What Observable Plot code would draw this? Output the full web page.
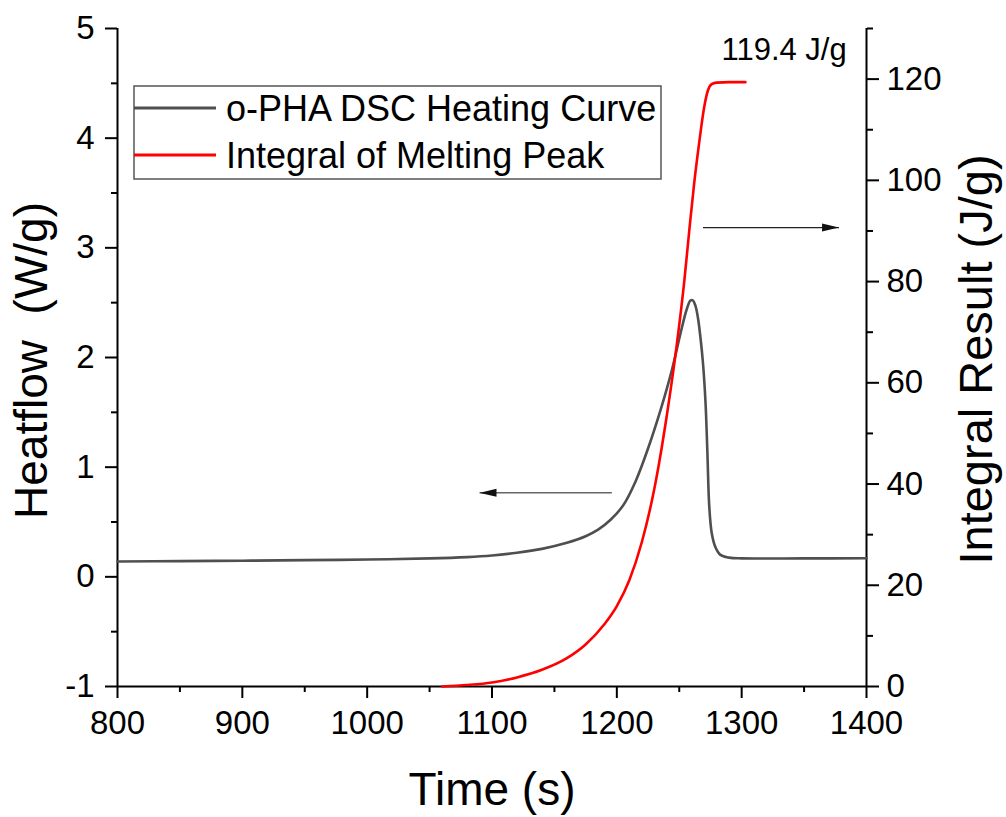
<!DOCTYPE html>
<html>
<head>
<meta charset="utf-8">
<script src="https://cdn.jsdelivr.net/npm/d3@7"></script>
<script src="https://cdn.jsdelivr.net/npm/@observablehq/plot@0.6"></script>
<style>
  html, body { margin: 0; padding: 0; background: #fff; }
  #chart { width: 1006px; height: 817px; }
</style>
</head>
<body>
<div id="chart"></div>
<script>
// ---- data ----
const heatTime = [800, 850, 900, 950, 1000, 1050, 1080, 1100, 1120, 1140, 1160, 1175, 1185, 1195, 1205, 1215, 1225, 1235, 1244, 1251, 1256, 1259, 1261, 1263, 1265, 1267, 1269, 1271, 1272.5, 1274, 1276, 1279, 1283, 1290, 1300, 1350, 1400];
const heatFlow = [0.14, 0.143, 0.147, 0.152, 0.158, 0.168, 0.18, 0.195, 0.22, 0.255, 0.31, 0.37, 0.43, 0.52, 0.65, 0.87, 1.17, 1.52, 1.88, 2.22, 2.44, 2.52, 2.52, 2.47, 2.36, 2.18, 1.95, 1.60, 1.15, 0.65, 0.40, 0.27, 0.20, 0.175, 0.168, 0.168, 0.17];

const integTime = [1060, 1080, 1100, 1120, 1140, 1160, 1175, 1190, 1200, 1210, 1220, 1230, 1240, 1248, 1254, 1258, 1262, 1266, 1270, 1273, 1276, 1280, 1290, 1303];
const integValue = [0, 0.3, 0.8, 1.8, 3.3, 5.6, 8.3, 12.3, 15.9, 21, 28.5, 39, 53.5, 67.5, 80, 90, 99.5, 107.5, 114.5, 117.8, 119.0, 119.3, 119.4, 119.4];

const xTicks = [800, 900, 1000, 1100, 1200, 1300, 1400];
const xMinor = [850, 950, 1050, 1150, 1250, 1350];
const leftTicks = [-1, 0, 1, 2, 3, 4, 5];
const leftMinor = [-0.5, 0.5, 1.5, 2.5, 3.5, 4.5];
const rightTicks = [0, 20, 40, 60, 80, 100, 120];
const rightMinor = [10, 30, 50, 70, 90, 110, 130];

const seriesNames = ["o-PHA DSC Heating Curve", "Integral of Melting Peak"];
const annotation = [{t: 1334, v: 125.7, label: "119.4 J/g"}];
// arrows: right-pointing (integral axis), left-pointing (heatflow axis)
const arrowRight = [{t1: 1269, t2: 1378, hf: 3.185}];
const arrowLeft = [{t1: 1196, t2: 1090, hf: 0.766}];

// right axis (0..130 J/g) mapped onto the left scale (-1..5 W/g)
const toLeft = d3.scaleLinear([0, 130], [-1, 5]);

const heatData = heatTime.map((t, i) => ({t, v: heatFlow[i]}));
const integData = integTime.map((t, i) => ({t, v: integValue[i]}));

const FONT = "Liberation Sans, Arial, sans-serif";
const fmt = d => String(d);

const chart = Plot.plot({
  width: 1006,
  height: 817,
  marginLeft: 117,
  marginRight: 140,
  marginTop: 28,
  marginBottom: 131,
  x: {domain: [800, 1400]},
  y: {domain: [-1, 5]},
  style: {fontFamily: FONT, fontSize: "32px", color: "black", background: "white"},
  marks: [
    // axes lines
    Plot.ruleY([-1], {stroke: "black", strokeWidth: 2}),
    Plot.ruleX([800], {stroke: "black", strokeWidth: 2}),
    Plot.ruleX([1400], {stroke: "black", strokeWidth: 2}),
    // bottom axis
    Plot.axisX(xTicks, {anchor: "bottom", tickSize: 12, tickPadding: 12, strokeWidth: 2, fontSize: 33, label: null, tickFormat: fmt}),
    Plot.axisX(xMinor, {anchor: "bottom", tickSize: 6, strokeWidth: 2, tickFormat: () => "", label: null}),
    // left axis
    Plot.axisY(leftTicks, {anchor: "left", tickSize: 12, tickPadding: 11, strokeWidth: 2, fontSize: 33, label: null, tickFormat: fmt}),
    Plot.axisY(leftMinor, {anchor: "left", tickSize: 6, strokeWidth: 2, tickFormat: () => "", label: null}),
    // right axis
    Plot.axisY(rightTicks.map(toLeft), {anchor: "right", tickSize: 12, tickPadding: 8, strokeWidth: 2, fontSize: 33, label: null,
      tickFormat: d => String(Math.round(toLeft.invert(d)))}),
    Plot.axisY(rightMinor.map(toLeft), {anchor: "right", tickSize: 6, strokeWidth: 2, tickFormat: () => "", label: null}),
    // axis titles
    Plot.text(["Time (s)"], {frameAnchor: "bottom", dy: 104, fontSize: 46, lineAnchor: "middle", textAnchor: "middle"}),
    Plot.text(["Heatflow  (W/g)"], {frameAnchor: "left", dx: -85, dy: 3, rotate: -90, fontSize: 46, lineAnchor: "middle", textAnchor: "middle"}),
    Plot.text(["Integral Result (J/g)"], {frameAnchor: "right", dx: 110, dy: 2, rotate: -90, fontSize: 47, lineAnchor: "middle", textAnchor: "middle"}),
    // data
    Plot.line(heatData, {x: "t", y: "v", stroke: "#4f4f4f", strokeWidth: 2.6, curve: "catmull-rom"}),
    Plot.line(integData, {x: "t", y: d => toLeft(d.v), stroke: "#ff0000", strokeWidth: 2.6, curve: "monotone-x"}),
    // annotation
    Plot.text(annotation, {x: "t", y: d => toLeft(d.v), text: "label", fontSize: 31, lineAnchor: "middle", textAnchor: "middle"}),
    // arrows
    Plot.link(arrowRight, {x1: "t1", x2: "t2", y1: "hf", y2: "hf", stroke: "#222", strokeWidth: 1.2, markerEnd: "arrow"}),
    Plot.link(arrowLeft, {x1: "t1", x2: "t2", y1: "hf", y2: "hf", stroke: "#666", strokeWidth: 1.5, markerEnd: "arrow"})
  ]
});

// reshape arrow markers into filled heads
chart.querySelectorAll("marker").forEach(m => {
  m.setAttribute("viewBox", "-17 -5 17 10");
  m.setAttribute("markerUnits", "userSpaceOnUse");
  m.setAttribute("markerWidth", 17);
  m.setAttribute("markerHeight", 10);
  m.setAttribute("refX", 0);
  m.setAttribute("refY", 0);
  m.setAttribute("fill", "#111");
  m.setAttribute("stroke", "none");
  const p = m.querySelector("path");
  if (p) p.setAttribute("d", "M-17,-4L0,0L-17,4Z");
});

// legend drawn inside the svg
const svg = d3.select(chart);
const lg = svg.append("g").attr("font-family", FONT).attr("font-size", 36).attr("text-anchor", "start");
lg.append("rect").attr("x", 134).attr("y", 86).attr("width", 527).attr("height", 93)
  .attr("fill", "white").attr("stroke", "#555").attr("stroke-width", 1.5);
const legendColors = ["#4f4f4f", "#ff0000"];
seriesNames.forEach((name, i) => {
  const y = 108 + i * 47;
  lg.append("line").attr("x1", 134).attr("x2", 216).attr("y1", y).attr("y2", y)
    .attr("stroke", legendColors[i]).attr("stroke-width", 3);
  lg.append("text").attr("x", 226).attr("y", y).attr("dy", "0.35em").attr("fill", "black")
    .attr("text-anchor", "start").text(name);
});

document.getElementById("chart").appendChild(chart);
</script>
</body>
</html>
